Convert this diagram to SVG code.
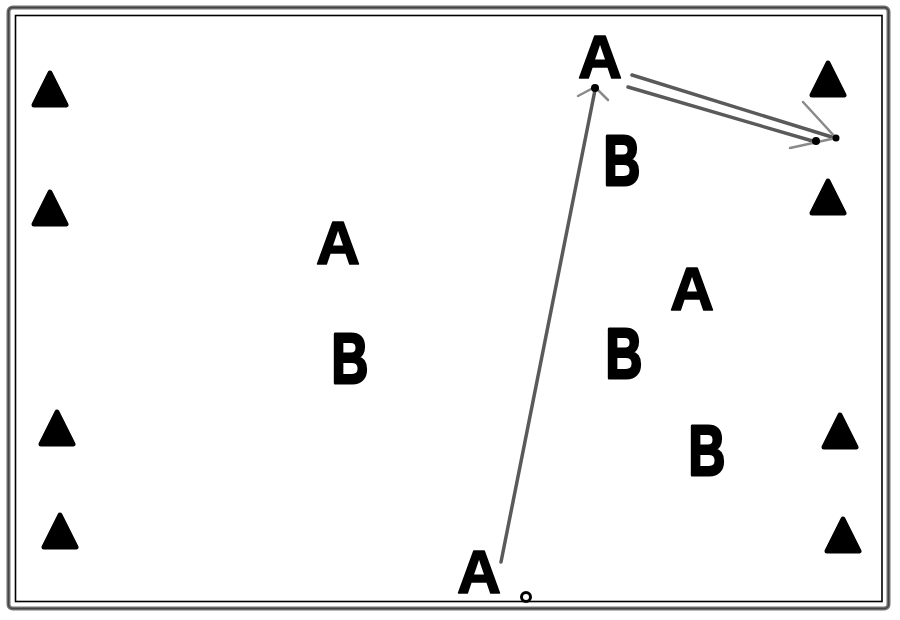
<svg xmlns="http://www.w3.org/2000/svg" width="900" height="620" viewBox="0 0 900 620">
<style>
.t{font-family:"Liberation Sans",Arial,sans-serif;font-weight:bold;fill:#000;stroke:#000;stroke-width:1.5;stroke-linejoin:round;text-anchor:middle}
.a{font-size:61px}
.b{font-size:58px;stroke-width:2.5}
.cone{fill:#000;stroke:#000;stroke-width:5;stroke-linejoin:round}
.ln{fill:none;stroke:#5a5a5a;stroke-width:3.5;stroke-linecap:round}
.hd{fill:none;stroke:#8a8a8a;stroke-width:2.5;stroke-linecap:round}
</style>
<defs>
<path id="cone" class="cone" d="M0,-16 L16,16 L-16,16 Z"/>
</defs>
<rect width="900" height="620" fill="#fff"/>
<g id="frame">
<rect x="8.5" y="7.5" width="880" height="601" rx="4" fill="none" stroke="#777" stroke-width="4"/>
<rect x="8.5" y="7.5" width="880" height="601" rx="4" fill="none" stroke="#444" stroke-width="1.5"/>
<rect x="15.5" y="15.5" width="866.5" height="586" fill="none" stroke="#000" stroke-width="1.6"/>
</g>
<g id="cones">
<use href="#cone" x="50" y="89"/>
<use href="#cone" x="50" y="208"/>
<use href="#cone" x="57" y="428"/>
<use href="#cone" x="60" y="531"/>
<use href="#cone" x="828" y="79"/>
<use href="#cone" x="828" y="197"/>
<use href="#cone" x="840" y="431"/>
<use href="#cone" x="843" y="535"/>
</g>
<g id="connectors">
<path class="ln" d="M501,562 L595,90"/>
<path class="hd" d="M578,96 L595,87 L608,100"/>
<circle cx="595" cy="88" r="4" fill="#000"/>
<path class="ln" d="M632,75 L835,138"/>
<path class="ln" d="M628,87 L816,142"/>
<path class="hd" d="M803,102 L836,138 L790,148"/>
<circle cx="836" cy="138" r="3.5" fill="#000"/>
<circle cx="816" cy="141" r="4" fill="#000"/>
</g>
<g id="player-A1"><text class="t a" x="338" y="264">A</text></g>
<g id="player-B1"><text class="t b" transform="translate(350,383) scale(0.88,1.2)">B</text></g>
<g id="player-A2"><text class="t a" x="600" y="78">A</text></g>
<g id="player-B2"><text class="t b" transform="translate(622,185) scale(0.88,1.2)">B</text></g>
<g id="player-A3"><text class="t a" x="692" y="310">A</text></g>
<g id="player-B3"><text class="t b" transform="translate(624,378) scale(0.88,1.2)">B</text></g>
<g id="player-B4"><text class="t b" transform="translate(707,475) scale(0.88,1.2)">B</text></g>
<g id="player-A4"><text class="t a" x="479" y="593">A</text></g>
<g id="ball"><circle cx="526" cy="597" r="4.5" fill="#fff" stroke="#000" stroke-width="3"/></g>
</svg>
